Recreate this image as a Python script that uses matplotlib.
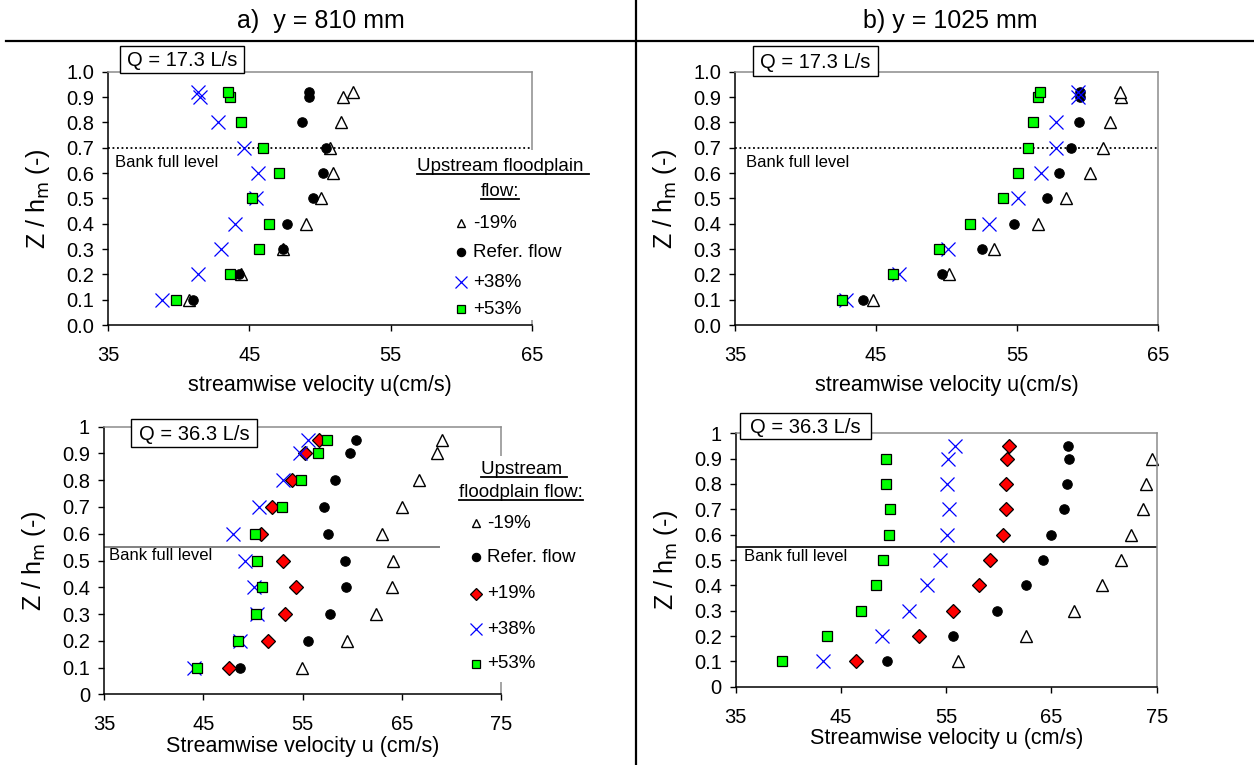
import matplotlib
matplotlib.use('Agg')
import matplotlib.pyplot as plt
from matplotlib.patches import Rectangle

plt.rcParams['font.family'] = ['Liberation Sans', 'DejaVu Sans']

# ---------------- data ----------------
# Panel a) y = 810 mm, Q = 17.3 L/s
z_a1 = [0.1, 0.2, 0.3, 0.4, 0.5, 0.6, 0.7, 0.8, 0.9, 0.92]
a1_m19 = [40.7, 44.4, 47.4, 49.0, 50.1, 50.9, 50.7, 51.5, 51.6, 52.3]
a1_ref = [41.0, 44.3, 47.4, 47.7, 49.5, 50.2, 50.4, 48.7, 49.2, 49.2]
a1_p38 = [38.8, 41.4, 43.0, 44.0, 45.5, 45.6, 44.6, 42.8, 41.5, 41.4]
a1_p53 = [39.8, 43.6, 45.7, 46.4, 45.2, 47.1, 46.0, 44.4, 43.6, 43.5]

# Panel b) y = 1025 mm, Q = 17.3 L/s
z_b1 = [0.1, 0.2, 0.3, 0.4, 0.5, 0.6, 0.7, 0.8, 0.9, 0.92]
b1_m19 = [44.8, 50.2, 53.4, 56.5, 58.5, 60.2, 61.1, 61.6, 62.4, 62.3]
b1_ref = [44.1, 49.7, 52.5, 54.8, 57.1, 58.0, 58.8, 59.4, 59.5, 59.5]
b1_p38 = [42.9, 46.6, 50.1, 53.0, 55.1, 56.7, 57.8, 57.8, 59.3, 59.3]
b1_p53 = [42.6, 46.2, 49.5, 51.7, 54.0, 55.1, 55.8, 56.1, 56.5, 56.6]

# Panel a) y = 810 mm, Q = 36.3 L/s
z_a2 = [0.1, 0.2, 0.3, 0.4, 0.5, 0.6, 0.7, 0.8, 0.9, 0.95]
a2_m19 = [54.9, 59.5, 62.4, 64.0, 64.1, 63.0, 65.0, 66.7, 68.6, 69.1]
a2_ref = [48.7, 55.6, 57.8, 59.4, 59.3, 57.6, 57.2, 58.3, 59.8, 60.4]
a2_p19 = [47.6, 51.5, 53.2, 54.3, 53.0, 50.8, 51.9, 53.9, 55.3, 56.7]
a2_p38 = [44.1, 48.7, 50.4, 50.1, 49.2, 48.0, 50.6, 53.0, 54.7, 55.6]
a2_p53 = [44.4, 48.5, 50.3, 50.9, 50.4, 50.2, 52.9, 54.8, 56.6, 57.5]

# Panel b) y = 1025 mm, Q = 36.3 L/s
z_b2 = [0.1, 0.2, 0.3, 0.4, 0.5, 0.6, 0.7, 0.8, 0.9, 0.95]
z_b2s = [0.1, 0.2, 0.3, 0.4, 0.5, 0.6, 0.7, 0.8, 0.9]
b2_m19 = [56.1, 62.6, 67.1, 69.8, 71.6, 72.6, 73.7, 74.0, 74.6]
b2_ref = [49.4, 55.6, 59.8, 62.6, 64.2, 65.0, 66.2, 66.5, 66.7, 66.6]
b2_p19 = [46.4, 52.4, 55.6, 58.1, 59.2, 60.4, 60.7, 60.7, 60.8, 61.0]
b2_p38 = [43.3, 48.9, 51.5, 53.2, 54.4, 55.1, 55.3, 55.1, 55.2, 55.8]
b2_p53 = [39.4, 43.7, 46.9, 48.3, 49.0, 49.6, 49.7, 49.3, 49.3]

legend_small = ['-19%', 'Refer. flow', '+38%', '+53%']
legend_big = ['-19%', 'Refer. flow', '+19%', '+38%', '+53%']

# ---------------- styles ----------------
ST = {
    'm19': dict(marker='^', ms=8, mfc='white', mec='black', mew=1.0, ls='none'),
    'ref': dict(marker='o', ms=6.8, mfc='black', mec='black', mew=0.8, ls='none'),
    'p19': dict(marker='D', ms=6.8, mfc='#FF0000', mec='black', mew=0.9, ls='none'),
    'p38': dict(marker='x', ms=10, mfc='none', mec='#0000FF', mew=0.9, ls='none'),
    'p53': dict(marker='s', ms=6.8, mfc='#00FF00', mec='black', mew=0.9, ls='none'),
}

W, H = 1254, 765
fig = plt.figure(figsize=(W / 100, H / 100), dpi=100)


def add_ax(x0, x1, ytop, ybot):
    return fig.add_axes([x0 / W, (H - ybot) / H, (x1 - x0) / W, (ybot - ytop) / H])


def style_ax(ax, xmax, decimals):
    ax.set_xlim(35, xmax)
    ax.set_ylim(0, 1.0)
    ax.set_xticks(range(35, xmax + 1, 10))
    yt = [i / 10 for i in range(11)]
    ax.set_yticks(yt)
    if decimals:
        ax.set_yticklabels(['%.1f' % v for v in yt])
    else:
        ax.set_yticklabels(['0'] + ['%.1f' % v for v in yt[1:-1]] + ['1'])
    for s in ['left', 'bottom']:
        ax.spines[s].set_color('black')
        ax.spines[s].set_linewidth(1.1)
    for s in ['top', 'right']:
        ax.spines[s].set_color('#8c8c8c')
        ax.spines[s].set_linewidth(1.1)
    ax.tick_params(direction='out', length=4, width=1, labelsize=14.5, colors='black')
    ax.tick_params(axis='x', pad=11)
    ax.tick_params(axis='y', pad=6)
    ax.set_ylabel('Z / h$_\\mathrm{m}$ (-)', fontsize=18, labelpad=10)


def plot_series(ax, ser):
    for key, (zz, vals) in ser:
        ax.plot(vals, zz, clip_on=False, **ST[key])


# top-left
ax1 = add_ax(108, 532, 71.7, 325)
style_ax(ax1, 65, True)
ax1.axhline(0.7, color='black', ls=(0, (1, 1.5)), lw=1.3, zorder=1)
plot_series(ax1, [('m19', (z_a1, a1_m19)), ('ref', (z_a1, a1_ref)),
                  ('p38', (z_a1, a1_p38)), ('p53', (z_a1, a1_p53))])
ax1.set_xlabel('streamwise velocity u(cm/s)', fontsize=15.5, labelpad=7)

# top-right
ax2 = add_ax(735, 1158, 71.7, 325)
style_ax(ax2, 65, True)
ax2.axhline(0.7, color='black', ls=(0, (1, 1.5)), lw=1.3, zorder=1)
plot_series(ax2, [('m19', (z_b1, b1_m19)), ('ref', (z_b1, b1_ref)),
                  ('p38', (z_b1, b1_p38)), ('p53', (z_b1, b1_p53))])
ax2.set_xlabel('streamwise velocity u(cm/s)', fontsize=15.5, labelpad=7)

# bottom-left
ax3 = add_ax(104, 501, 426.7, 694.3)
style_ax(ax3, 75, False)
ax3.axhline(0.55, xmax=0.844, color='#808080', lw=1.4, zorder=1)
plot_series(ax3, [('m19', (z_a2, a2_m19)), ('ref', (z_a2, a2_ref)),
                  ('p19', (z_a2, a2_p19)), ('p38', (z_a2, a2_p38)),
                  ('p53', (z_a2, a2_p53))])
ax3.set_xlabel('Streamwise velocity u (cm/s)', fontsize=15.5, labelpad=1)

# bottom-right
ax4 = add_ax(735.7, 1156.7, 433.3, 686.7)
style_ax(ax4, 75, False)
ax4.axhline(0.55, color='black', lw=1.2, zorder=1)
plot_series(ax4, [('m19', (z_b2s, b2_m19)), ('ref', (z_b2, b2_ref)),
                  ('p19', (z_b2, b2_p19)), ('p38', (z_b2, b2_p38)),
                  ('p53', (z_b2s, b2_p53))])
ax4.set_xlabel('Streamwise velocity u (cm/s)', fontsize=15.5, labelpad=1)

for ax, (bx, by) in zip([ax1, ax2, ax3, ax4], [(0.017, 0.64), (0.027, 0.64), (0.013, 0.52), (0.019, 0.515)]):
    ax.text(bx, by, 'Bank full level', transform=ax.transAxes, fontsize=12, va='center', ha='left')

# ---------------- overlay (layout elements in pixel space) ----------------
ov = fig.add_axes([0, 0, 1, 1], zorder=10)
ov.set_xlim(0, W)
ov.set_ylim(H, 0)
ov.axis('off')
ov.patch.set_alpha(0)

ov.plot([6, W], [41, 41], color='black', lw=1.6)
ov.plot([636, 636], [0, H], color='black', lw=1.6)
ov.text(321, 21, 'a)  y = 810 mm', fontsize=18, ha='center', va='center')
ov.text(950, 21, 'b) y = 1025 mm', fontsize=18, ha='center', va='center')

# Q boxes
for (x0, x1, y0, y1, txt) in [(120, 244, 46, 73, 'Q = 17.3 L/s'),
                              (753, 878, 46, 76, 'Q = 17.3 L/s'),
                              (131, 257, 419, 447, 'Q = 36.3 L/s'),
                              (740, 871, 413, 439, 'Q = 36.3 L/s')]:
    ov.add_patch(Rectangle((x0, y0), x1 - x0, y1 - y0, fc='white', ec='black', lw=1))
    ov.text((x0 + x1) / 2, (y0 + y1) / 2 + 1, txt, fontsize=14.5, ha='center', va='center')

# legends
ov.add_patch(Rectangle((413, 150), 180, 170, fc='white', ec='none'))
ov.add_patch(Rectangle((454, 456), 136, 226, fc='white', ec='none'))

title_texts = []
title_texts.append(ov.text(503, 166, 'Upstream floodplain ', fontsize=13.5, ha='center', va='center'))
title_texts.append(ov.text(500, 191, 'flow:', fontsize=13.5, ha='center', va='center'))
title_texts.append(ov.text(524, 469, 'Upstream ', fontsize=13.5, ha='center', va='center'))
title_texts.append(ov.text(521, 492, 'floodplain flow:', fontsize=13.5, ha='center', va='center'))

keys_small = ['m19', 'ref', 'p38', 'p53']
keys_big = ['m19', 'ref', 'p19', 'p38', 'p53']
small_ms = {'m19': 6, 'ref': 6, 'p19': 6, 'p38': 9, 'p53': 6}
for k, lab, yy in zip(keys_small, legend_small, [223, 252, 282, 309]):
    st = dict(ST[k]); st['ms'] = small_ms[k]
    ov.plot([461], [yy], **st)
    ov.text(473, yy, lab, fontsize=13.5, ha='left', va='center')
for k, lab, yy in zip(keys_big, legend_big, [523, 557, 594, 629, 664]):
    st = dict(ST[k]); st['ms'] = small_ms[k]
    ov.plot([476], [yy], **st)
    ov.text(487, yy, lab, fontsize=13.5, ha='left', va='center')

fig.canvas.draw()
r = fig.canvas.get_renderer()
for t in title_texts:
    bb = t.get_window_extent(renderer=r)
    ybase = H - bb.y0 - 1
    ov.plot([bb.x0, bb.x1], [ybase, ybase], color='black', lw=1.3)

fig.savefig('out.png', dpi=100)
